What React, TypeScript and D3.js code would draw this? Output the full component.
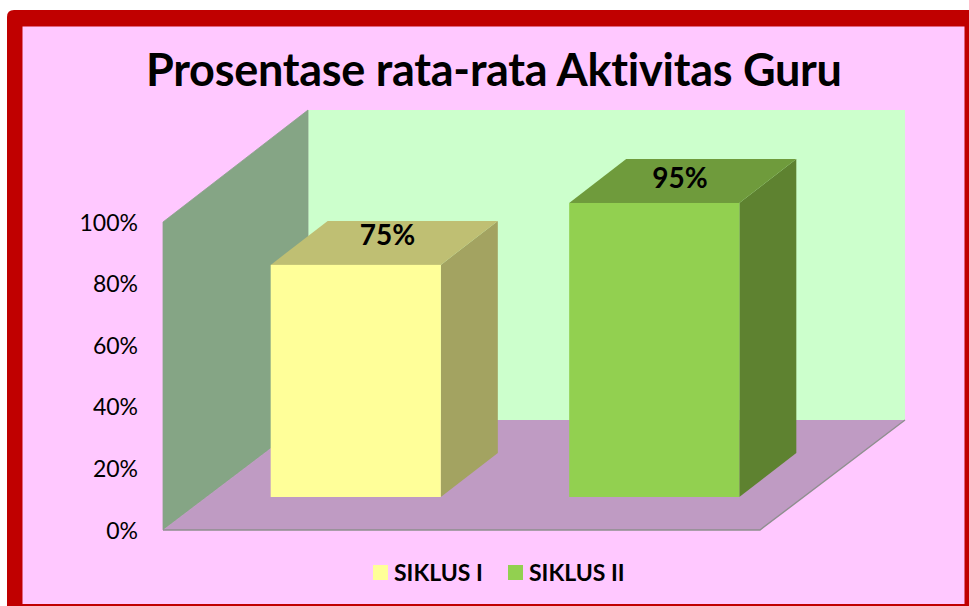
import React from "react";
import * as d3 from "d3";

const categories = ["SIKLUS I", "SIKLUS II"];
const values = [75, 95];
const axisTicks = [0, 20, 40, 60, 80, 100];
const barFront = ["#FFFF99", "#92D050"];
const barTop = ["#BFBF73", "#6F9B3C"];
const barSide = ["#A3A361", "#5E8230"];
const titleText = "Prosentase rata-rata Aktivitas Guru";
const labelCx = [387.5, 680];
const labelBase = [244.5, 188];
const legendX = [373, 508];

const W = 969, H = 606;
const depthX = 57, depthY = -44; // bar depth offset
const wallDX = 145, wallDY = -110; // floor depth offset
const floorY = 530, topY = 222, floorL = 163, floorR = 760;
const barBase = 497;
const font = "Lato, 'Open Sans', sans-serif";

export default function App() {
  const yFront = d3.scaleLinear().domain([0, 100]).range([floorY, topY]);
  const yBar = d3.scaleLinear().domain([0, 100]).range([barBase, barBase - 309.5]);
  const x = d3.scaleBand<string>().domain(categories).range([206.5, 803.5]).paddingInner(0.43).paddingOuter(0.215);
  const poly = (pts: [number, number][]) => (d3.line()(pts) ?? "") + "Z";
  const edge = "#8f8f8f";
  return (
    <svg width={W} height={H} viewBox={`0 0 ${W} ${H}`} style={{ position: "fixed", left: 0, top: 0, display: "block", fontVariantLigatures: "none" }}>
      <rect x={0} y={0} width={W} height={H} fill="#fff" />
      <path d={`M7 ${H} V17 Q7 10 14 10 H${W} V${H} Z`} fill="#C00000" />
      <rect x={22.5} y={26.5} width={942} height={577.5} fill="#FFC8FF" />

      <text x={494} y={85.5} textAnchor="middle" fontFamily={font} fontWeight={700} fontSize={45} textLength={696} lengthAdjust="spacing" fill="#000">{titleText}</text>

      {/* back wall */}
      <path d={poly([[floorL + wallDX, floorY + wallDY], [floorL + wallDX, topY + wallDY - 2], [floorR + wallDX, topY + wallDY - 2], [floorR + wallDX, floorY + wallDY]])} fill="#CCFFCC" />
      {/* left wall */}
      <path d={poly([[floorL, floorY], [floorL, topY], [floorL + wallDX, topY + wallDY - 2], [floorL + wallDX, floorY + wallDY]])} fill="#85A585" stroke="#8a9f8a" strokeWidth={0.8} />
      {/* floor */}
      <path d={poly([[floorL, floorY], [floorR, floorY], [floorR + wallDX, floorY + wallDY], [floorL + wallDX, floorY + wallDY]])} fill="#BF9BC3" />
      <path d={d3.line()([[floorL, floorY], [floorR, floorY], [floorR + wallDX, floorY + wallDY]]) ?? ""} fill="none" stroke={edge} strokeWidth={1.4} />

      {categories.map((c, i) => {
        const x0 = x(c)!, x1 = x0 + x.bandwidth();
        const yT = yBar(values[i]);
        return (
          <g key={c}>
            <path d={poly([[x1, yT], [x1 + depthX, yT + depthY], [x1 + depthX, barBase + depthY], [x1, barBase]])} fill={barSide[i]} />
            <path d={poly([[x0, yT], [x0 + depthX, yT + depthY], [x1 + depthX, yT + depthY], [x1, yT]])} fill={barTop[i]} />
            <rect x={x0} y={yT} width={x.bandwidth()} height={barBase - yT} fill={barFront[i]} />
            <text x={labelCx[i]} y={labelBase[i]} textAnchor="middle" fontFamily={font} fontWeight={700} fontSize={28} fill="#000">{values[i]}%</text>
          </g>
        );
      })}

      {axisTicks.map((t) => (
        <text key={t} x={138} y={yFront(t) + 8.5} textAnchor="end" fontFamily={font} fontSize={23} fill="#000">{t}%</text>
      ))}

      {categories.map((c, i) => (
        <g key={c}>
          <rect x={legendX[i]} y={565} width={15} height={15} fill={barFront[i]} />
          <text x={legendX[i] + 21} y={580.5} fontFamily={font} fontWeight={700} fontSize={23} fill="#000">{c}</text>
        </g>
      ))}
    </svg>
  );
}
